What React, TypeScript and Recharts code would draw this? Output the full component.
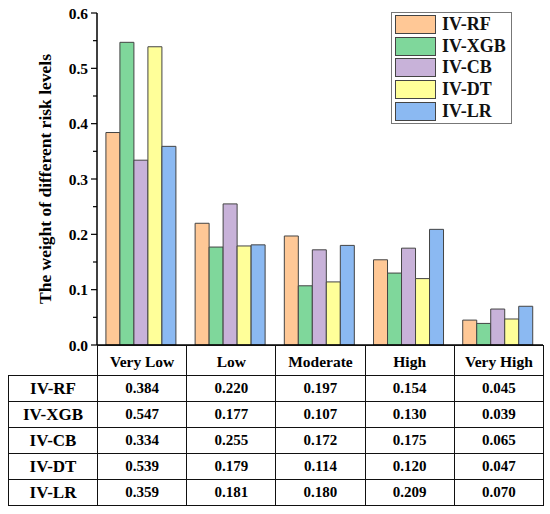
import React from 'react';
import { BarChart, Bar, XAxis, YAxis } from 'recharts';

const categories = ['Very Low', 'Low', 'Moderate', 'High', 'Very High'];
const seriesNames = ['IV-RF', 'IV-XGB', 'IV-CB', 'IV-DT', 'IV-LR'];
const rfValues = [0.384, 0.22, 0.197, 0.154, 0.045];
const xgbValues = [0.547, 0.177, 0.107, 0.13, 0.039];
const cbValues = [0.334, 0.255, 0.172, 0.175, 0.065];
const dtValues = [0.539, 0.179, 0.114, 0.12, 0.047];
const lrValues = [0.359, 0.181, 0.18, 0.209, 0.07];
const yTicks = [0, 0.05, 0.1, 0.15, 0.2, 0.25, 0.3, 0.35, 0.4, 0.45, 0.5, 0.55, 0.6];
const yTitle = 'The weight of different risk levels';

const colors = ['#FFC896', '#7FD79B', '#C8B2D9', '#FFFF99', '#8BB9F2'];
const allValues = [rfValues, xgbValues, cbValues, dtValues, lrValues];

const data = categories.map((category, i) => {
  const row: Record<string, string | number> = { category };
  seriesNames.forEach((name, s) => {
    row[name] = allValues[s][i];
  });
  return row;
});

const FONT = '"Liberation Serif", "Times New Roman", serif';

const YTick = (props: any) => {
  const { x, y, payload } = props;
  const v = payload.value as number;
  const major = Math.abs(Math.round(v * 10) - v * 10) < 1e-6;
  return (
    <g>
      <line x1={x - (major ? 6 : 4)} y1={y} x2={x} y2={y} stroke="#000" strokeWidth={1.2} />
      {major && (
        <text
          x={x - 9}
          y={y}
          textAnchor="end"
          dominantBaseline="central"
          fontFamily={FONT}
          fontWeight="bold"
          fontSize={15.5}
          fill="#000"
        >
          {v.toFixed(1)}
        </text>
      )}
    </g>
  );
};

const LegendBox = () => (
  <div
    style={{
      position: 'absolute',
      left: 391,
      top: 12,
      border: '1.5px solid #777',
      background: '#fff',
      padding: '1px 3px',
      width: 113,
    }}
  >
    {seriesNames.map((name, i) => (
      <div key={name} style={{ display: 'flex', alignItems: 'center', height: 21.6 }}>
        <div
          style={{
            width: 39,
            height: 17,
            background: colors[i],
            border: '1px solid #444',
            marginRight: 6,
          }}
        />
        <span style={{ fontFamily: FONT, fontWeight: 'bold', fontSize: 18, color: '#111' }}>{name}</span>
      </div>
    ))}
  </div>
);

const cellBorder = '1.5px solid #111';

export default function App() {
  return (
    <div style={{ position: 'absolute', left: 0, top: 0, width: 550, height: 514, background: '#fff' }}>
      <BarChart
        width={550}
        height={375}
        data={data}
        margin={{ top: 13, right: 7, bottom: 0, left: 0 }}
        barCategoryGap="10%"
        barGap={0}
      >
        <XAxis
          dataKey="category"
          height={30}
          tick={false}
          tickSize={5}
          axisLine={{ stroke: '#000', strokeWidth: 1.5 }}
          tickLine={{ stroke: '#000', strokeWidth: 1.2 }}
        />
        <YAxis
          width={97}
          domain={[0, 0.6]}
          ticks={yTicks}
          interval={0}
          tickSize={0}
          tickMargin={0}
          tickLine={false}
          tick={<YTick />}
          axisLine={{ stroke: '#000', strokeWidth: 1.5 }}
          label={{
            value: yTitle,
            content: (p: any) => {
              const vb = p.viewBox || { y: 13, height: 332 };
              const cx = 45;
              const cy = vb.y + vb.height / 2;
              return (
                <text
                  x={cx}
                  y={cy}
                  transform={`rotate(-90 ${cx} ${cy})`}
                  textAnchor="middle"
                  dominantBaseline="central"
                  fontFamily={FONT}
                  fontWeight="bold"
                  fontSize={17.5}
                  fill="#000"
                >
                  {yTitle}
                </text>
              );
            },
          }}
        />
        {seriesNames.map((name, i) => (
          <Bar
            key={name}
            dataKey={name}
            fill={colors[i]}
            stroke="#444"
            strokeWidth={1}
            isAnimationActive={false}
          />
        ))}
      </BarChart>
      <LegendBox />
      <table
        style={{
          position: 'absolute',
          left: 8,
          top: 345,
          width: 535,
          borderCollapse: 'collapse',
          tableLayout: 'fixed',
          fontFamily: FONT,
          fontWeight: 'bold',
          background: 'transparent',
        }}
      >
        <colgroup>
          <col style={{ width: 89 }} />
          {categories.map((c) => (
            <col key={c} style={{ width: 89.2 }} />
          ))}
        </colgroup>
        <tbody>
          <tr style={{ height: 30 }}>
            <td style={{ border: 'none', padding: 0 }} />
            {categories.map((c) => (
              <td
                key={c}
                style={{ border: cellBorder, textAlign: 'center', fontSize: 15.5, padding: 0, paddingTop: 2 }}
              >
                {c}
              </td>
            ))}
          </tr>
          {seriesNames.map((name, s) => (
            <tr key={name} style={{ height: 26 }}>
              <td style={{ border: cellBorder, textAlign: 'center', fontSize: 17, padding: 0 }}>{name}</td>
              {allValues[s].map((v, i) => (
                <td key={i} style={{ border: cellBorder, textAlign: 'center', fontSize: 15, padding: 0 }}>
                  {v.toFixed(3)}
                </td>
              ))}
            </tr>
          ))}
        </tbody>
      </table>
    </div>
  );
}
